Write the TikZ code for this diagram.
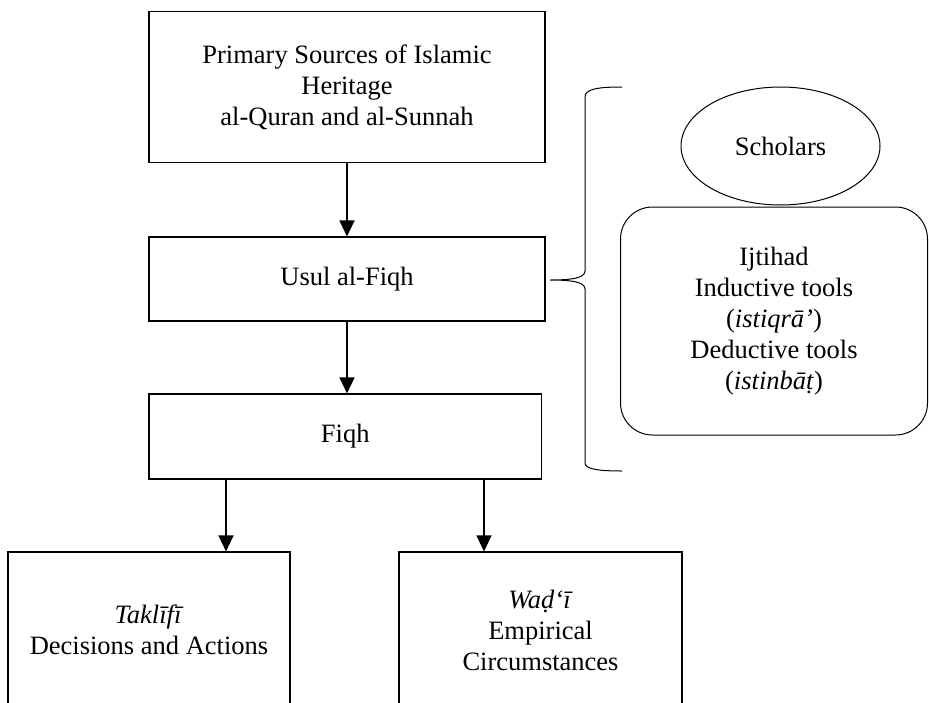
\documentclass[tikz,border=0pt]{standalone}
\usepackage{fontspec}
\setmainfont{Liberation Serif}
\usetikzlibrary{arrows.meta,shapes.geometric}
\begin{document}
\begin{tikzpicture}[x=1pt,y=-1pt,
  every node/.style={font=\fontsize{26.5}{31}\selectfont, align=center, inner sep=0pt},
  box/.style={draw, line width=1.1pt, rectangle},
  arr/.style={line width=1.1pt, -{Triangle[width=15pt,length=16pt]}},
  bracestyle/.style={line width=1pt}
  ]
\useasboundingbox (0,0) rectangle (929,702);
% main column
\node[box, minimum width=396pt, minimum height=151pt] (src) at (347,87.3)
  {Primary Sources of Islamic\\Heritage\\al-Quran and al-Sunnah};
\node[box, minimum width=396pt, minimum height=84pt] (usul) at (347,279) {Usul al-Fiqh};
\node[box, minimum width=392.5pt, minimum height=85pt] (fiqh) at (345.25,436.5) {Fiqh};
% right side
\node[draw, ellipse, line width=1pt, minimum width=199pt, minimum height=118pt] (sch) at (780.5,146) {Scholars};
\node[draw, line width=1pt, rounded corners=32pt, minimum width=307pt, minimum height=228pt] (ijt) at (774,321)
  {Ijtihad\\Inductive tools\\(\textit{istiqrā’})\\Deductive tools\\(\textit{istinbāṭ})};
% brace
\draw[bracestyle] (622,87) .. controls (598,87) and (585,89) .. (585,97) -- (585,271)
  .. controls (585,278) and (572,280) .. (550,280)
  .. controls (572,280) and (585,282) .. (585,289) -- (585,463)
  .. controls (585,469) and (598,471) .. (622,471);
% bottom boxes (open at the bottom edge of the picture)
\begin{scope}
\clip (0,0) rectangle (929,702);
\node[box, minimum width=282pt, minimum height=156pt] (tak) at (149,630)
  {\textit{Taklīfī}\\Decisions and Actions};
\node[box, minimum width=283pt, minimum height=156pt] (wad) at (540.5,630)
  {\textit{Waḍ‘ī}\\Empirical\\Circumstances};
\end{scope}
% connectors
\draw[arr] (src.south) -- (usul.north);
\draw[arr] (usul.south) -- (fiqh.north -| usul.south);
\draw[arr] (fiqh.south -| 226,0) -- (tak.north -| 226,0);
\draw[arr] (fiqh.south -| 484,0) -- (wad.north -| 484,0);
\end{tikzpicture}
\end{document}
